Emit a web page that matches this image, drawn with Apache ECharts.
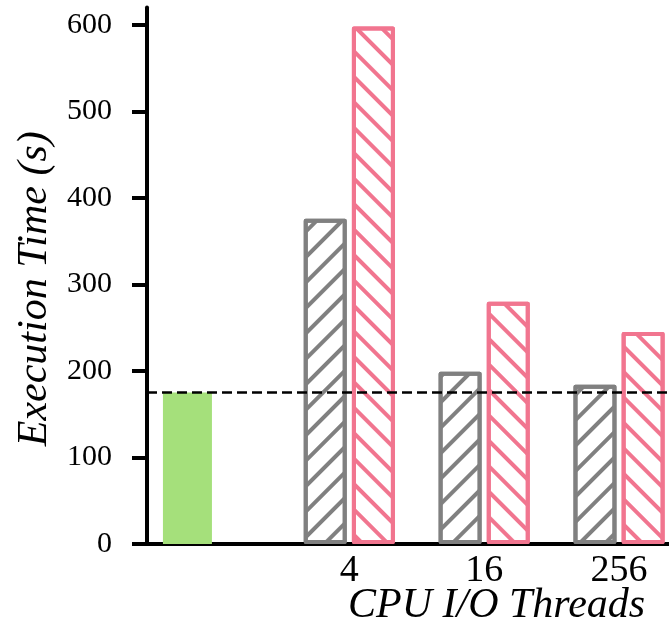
<!DOCTYPE html>
<html>
<head>
<meta charset="utf-8">
<script src="https://cdn.jsdelivr.net/npm/echarts@6/dist/echarts.min.js"></script>
<style>
html,body{margin:0;padding:0;background:#fff;}
#chart{width:669px;height:626px;}
</style>
</head>
<body>
<div id="chart"></div>
<script>
// ---- data ----
const categories = ['', '4', '16', '256'];
const baselineValues = [175, null, null, null];   // green bar
const seriesAValues = [null, 376, 199, 184];       // grey hatched
const seriesBValues = [null, 598, 280, 245];       // pink hatched
const referenceLine = 175;
const yTicks = [0, 100, 200, 300, 400, 500, 600];
const yTitle = 'Execution Time (s)';
const xTitle = 'CPU I/O Threads';

const FONT = 'Liberation Serif, Times New Roman, serif';
const GREY = '#808080';
const PINK = '#F1758F';
const GREEN = '#A5E07B';

const chart = echarts.init(document.getElementById('chart'), null, {renderer: 'canvas'});

const option = {
  animation: false,
  backgroundColor: '#ffffff',
  title: {
    text: xTitle,
    left: 348,
    top: 585,
    padding: 0,
    textStyle: {fontFamily: FONT, fontStyle: 'italic', fontWeight: 'normal', fontSize: 42, color: '#000'}
  },
  grid: {left: 147, top: 7.5, bottom: 82, right: -17.5, containLabel: false, outerBoundsMode: 'none'},
  xAxis: [
    {
      type: 'category',
      data: categories,
      boundaryGap: true,
      axisLine: {show: true, lineStyle: {color: '#000', width: 4}},
      axisTick: {show: false},
      axisLabel: {fontFamily: FONT, fontSize: 38, color: '#000', margin: 8},
      splitLine: {show: false}
    },
    {
      type: 'category',
      data: categories,
      show: false,
      boundaryGap: true
    }
  ],
  yAxis: {
    type: 'value',
    min: 0,
    max: 620,
    name: yTitle,
    nameLocation: 'middle',
    nameRotate: 90,
    nameGap: 85,
    nameTextStyle: {fontFamily: FONT, fontStyle: 'italic', fontSize: 42, color: '#000', padding: [0, 26, 0, 0]},
    axisLine: {show: true, lineStyle: {color: '#000', width: 4}},
    axisTick: {show: true, inside: false, length: 15, lineStyle: {color: '#000', width: 4}, customValues: yTicks},
    axisLabel: {fontFamily: FONT, fontSize: 30, color: '#000', margin: 35, customValues: yTicks},
    splitLine: {show: false}
  },
  series: [
    {
      name: 'baseline',
      type: 'bar',
      xAxisIndex: 1,
      data: baselineValues,
      barWidth: 49,
      barGap: 0,
      itemStyle: {color: GREEN},
      markLine: {
        silent: true,
        symbol: ['none', 'none'],
        label: {show: false},
        lineStyle: {color: '#000', width: 2.5, type: [10, 5]},
        data: [{yAxis: referenceLine}]
      }
    },
    {
      name: 'spacer',
      type: 'bar',
      xAxisIndex: 1,
      data: [null, null, null, null],
      barWidth: 54,
      barGap: 0,
      silent: true
    },
    {
      name: 'A',
      type: 'bar',
      xAxisIndex: 0,
      data: seriesAValues,
      barWidth: 43,
      barGap: '12%',
      itemStyle: {
        color: '#ffffff',
        borderColor: GREY,
        borderWidth: 4,
        borderJoin: 'round',
        decal: {symbol: 'rect', symbolSize: 1, color: GREY, backgroundColor: null, dashArrayX: [1, 0], dashArrayY: [4, 14], rotation: -Math.PI / 4}
      }
    },
    {
      name: 'B',
      type: 'bar',
      xAxisIndex: 0,
      data: seriesBValues,
      barWidth: 43,
      barGap: '12%',
      itemStyle: {
        color: '#ffffff',
        borderColor: PINK,
        borderWidth: 4,
        borderJoin: 'round',
        decal: {symbol: 'rect', symbolSize: 1, color: PINK, backgroundColor: null, dashArrayX: [1, 0], dashArrayY: [4, 14], rotation: Math.PI / 4}
      }
    }
  ]
};
chart.setOption(option);
</script>
</body>
</html>
